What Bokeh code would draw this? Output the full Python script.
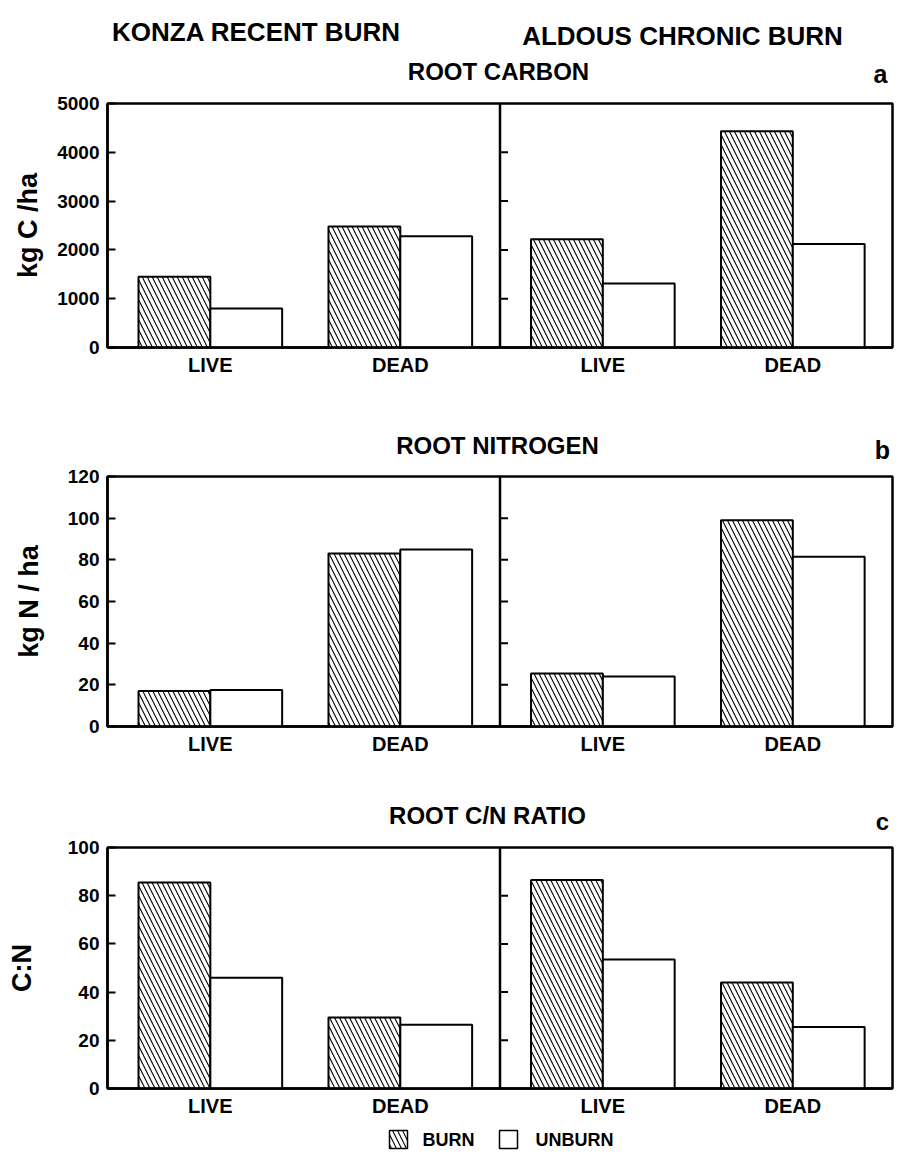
from bokeh.plotting import figure
from bokeh.models import Range1d, FixedTicker, Span
from bokeh.layouts import column
from bokeh.embed import file_html
from bokeh.resources import INLINE
from bokeh.core.properties import value

# ---------------- data ----------------
sites = ["KONZA RECENT BURN", "ALDOUS CHRONIC BURN"]
fractions = ["LIVE", "DEAD"]
treatments = ["BURN", "UNBURN"]
panel_titles = ["ROOT CARBON", "ROOT NITROGEN", "ROOT C/N RATIO"]
panel_letters = ["a", "b", "c"]
y_labels = ["kg C /ha", "kg N / ha", "C:N"]
# order of values: [Konza LIVE, Konza DEAD, Aldous LIVE, Aldous DEAD]
bar_site = [0, 0, 1, 1]
bar_fraction = ["LIVE", "DEAD", "LIVE", "DEAD"]

carbon_burn = [1450, 2480, 2220, 4430]
carbon_unburn = [800, 2280, 1310, 2120]
nitrogen_burn = [17, 83, 25.5, 99]
nitrogen_unburn = [17.5, 85, 24, 81.5]
cn_burn = [85.5, 29.5, 86.5, 44]
cn_unburn = [46, 26.5, 53.5, 25.5]

carbon_ticks = [0, 1000, 2000, 3000, 4000, 5000]
nitrogen_ticks = [0, 20, 40, 60, 80, 100, 120]
cn_ticks = [0, 20, 40, 60, 80, 100]

# ---------------- layout / style ----------------
FONT = "Liberation Sans"
W = 895
LEFT, RIGHT = 107, 3          # frame from x=107 to x=892 on the page
GROUP_OFFSET = {"LIVE": 0.262, "DEAD": 0.746}
BAR_W = 0.183
HATCH = dict(hatch_pattern="left_diagonal_line", hatch_scale=10, hatch_weight=1.1,
             hatch_color="black")


def text_strip(height):
    # frame aligned with the panels, so data x == page pixel x
    p = figure(width=W, height=height, x_range=Range1d(LEFT, W - RIGHT),
               y_range=Range1d(height, 0), x_axis_type=None, y_axis_type=None,
               output_backend="svg", toolbar_location=None,
               min_border_left=LEFT, min_border_right=RIGHT, min_border_top=0,
               min_border_bottom=0)
    p.outline_line_color = None
    p.background_fill_color = "white"
    p.border_fill_color = "white"
    return p


def put_text(p, x, y, txt, size, align="center", baseline="middle"):
    p.text(x=[x], y=[y], text=[txt], text_font=value(FONT), text_font_style="bold",
           text_font_size=size, text_align=align, text_baseline=baseline,
           text_color="black")


def make_panel(burn, unburn, ticks, ylabel, ylabel_standoff, height, top, bottom):
    ymax = ticks[-1]
    p = figure(width=W, height=height, x_range=Range1d(0, 2), y_range=Range1d(0, ymax),
               output_backend="svg", toolbar_location=None,
               min_border_left=LEFT, min_border_right=RIGHT, min_border_top=top,
               min_border_bottom=bottom)
    p.background_fill_color = "white"
    p.border_fill_color = "white"
    p.outline_line_color = "black"
    p.outline_line_width = 2.5
    p.xgrid.visible = False
    p.ygrid.visible = False

    centers = [s + GROUP_OFFSET[f] for s, f in zip(bar_site, bar_fraction)]
    x_burn = [c - BAR_W / 2 for c in centers]
    x_unburn = [c + BAR_W / 2 for c in centers]
    p.vbar(x=x_burn, top=burn, bottom=0, width=BAR_W, fill_color="white",
           line_color="black", line_width=2, **HATCH)
    p.vbar(x=x_unburn, top=unburn, bottom=0, width=BAR_W, fill_color="white",
           line_color="black", line_width=2)

    ya = p.yaxis[0]
    ya.ticker = FixedTicker(ticks=ticks)
    ya.minor_tick_line_color = None
    ya.major_tick_in = 8
    ya.major_tick_out = 0
    ya.major_tick_line_width = 2
    ya.axis_line_width = 2.5
    ya.major_label_standoff = 8
    ya.major_label_text_font = FONT
    ya.major_label_text_font_style = "bold"
    ya.major_label_text_font_size = "19px"
    ya.major_label_text_color = "black"
    ya.axis_label = ylabel
    ya.axis_label_standoff = ylabel_standoff
    ya.axis_label_text_font = FONT
    ya.axis_label_text_font_style = "bold"
    ya.axis_label_text_font_size = "27px"
    ya.axis_label_text_color = "black"

    xa = p.xaxis[0]
    xa.ticker = FixedTicker(ticks=sorted(set(centers)))
    xa.major_label_overrides = {c: f for c, f in zip(centers, bar_fraction)}
    xa.minor_tick_line_color = None
    xa.major_tick_line_color = None
    xa.major_tick_in = 0
    xa.major_tick_out = 0
    xa.axis_line_width = 2.5
    xa.major_label_standoff = 6
    xa.major_label_text_font = FONT
    xa.major_label_text_font_style = "bold"
    xa.major_label_text_font_size = "20px"
    xa.major_label_text_color = "black"

    # divider between the two sites and its inward ticks
    p.add_layout(Span(location=1, dimension="height", line_color="black", line_width=2.5))
    inner = ticks[1:-1]
    p.ray(x=[1] * len(inner), y=inner, length=8, length_units="screen", angle=0,
          line_color="black", line_width=2)
    return p


# header + first panel title
t1 = text_strip(89)
put_text(t1, 256, 31, sites[0], "26px")
put_text(t1, 682, 35, sites[1], "26px")
put_text(t1, 498, 71, panel_titles[0], "24px")
put_text(t1, 880, 73, panel_letters[0], "25px")

p1 = make_panel(carbon_burn, carbon_unburn, carbon_ticks, y_labels[0], 11,
                height=331, top=14, bottom=73)

t2 = text_strip(42)
put_text(t2, 497, 25, panel_titles[1], "24px")
put_text(t2, 882, 29, panel_letters[1], "25px")

p2 = make_panel(nitrogen_burn, nitrogen_unburn, nitrogen_ticks, y_labels[1], 21,
                height=333, top=14, bottom=69)

t3 = text_strip(40)
put_text(t3, 487, 20, panel_titles[2], "24px")
put_text(t3, 882, 26, panel_letters[2], "24px")

p3 = make_panel(cn_burn, cn_unburn, cn_ticks, y_labels[2], 28,
                height=287, top=12, bottom=34)

# legend strip
lg = text_strip(34)
lg.rect(x=[398], y=[17], width=18, height=18, fill_color="white", line_color="black",
        line_width=1.5, **HATCH)
lg.rect(x=[508], y=[17], width=18, height=18, fill_color="white", line_color="black",
        line_width=1.5)
put_text(lg, 422, 17, treatments[0], "18px", align="left")
put_text(lg, 535, 17, treatments[1], "18px", align="left")

layout = column(t1, p1, t2, p2, t3, p3, lg)
open("out.html", "w").write(file_html(layout, INLINE))
